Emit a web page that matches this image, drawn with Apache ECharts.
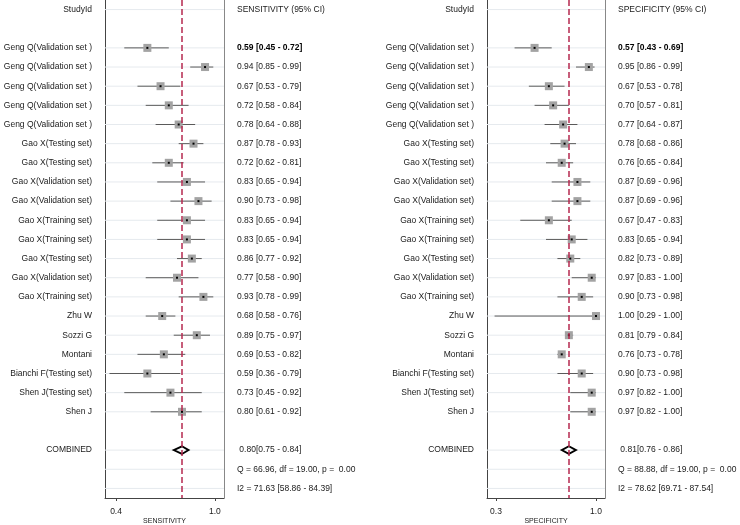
<!DOCTYPE html>
<html>
<head>
<meta charset="utf-8">
<script src="https://cdn.jsdelivr.net/npm/echarts@6/dist/echarts.min.js"></script>
<style>
  html, body { margin: 0; padding: 0; background: #fff; }
  #chart { width: 740px; height: 525px; }
</style>
</head>
<body>
<div id="chart"></div>
<script>
// study labels, top to bottom
const studies = [
  'Geng Q(Validation set )', 'Geng Q(Validation set )', 'Geng Q(Validation set )',
  'Geng Q(Validation set )', 'Geng Q(Validation set )',
  'Gao X(Testing set)', 'Gao X(Testing set)', 'Gao X(Validation set)', 'Gao X(Validation set)',
  'Gao X(Training set)', 'Gao X(Training set)', 'Gao X(Testing set)', 'Gao X(Validation set)',
  'Gao X(Training set)', 'Zhu W', 'Sozzi G', 'Montani', 'Bianchi F(Testing set)',
  'Shen J(Testing set)', 'Shen J'
]

const sensEst = [0.59, 0.94, 0.67, 0.72, 0.78, 0.87, 0.72, 0.83, 0.90, 0.83, 0.83, 0.86, 0.77, 0.93, 0.68, 0.89, 0.69, 0.59, 0.73, 0.80]
const sensLo = [0.45, 0.85, 0.53, 0.58, 0.64, 0.78, 0.62, 0.65, 0.73, 0.65, 0.65, 0.77, 0.58, 0.78, 0.58, 0.75, 0.53, 0.36, 0.45, 0.61]
const sensHi = [0.72, 0.99, 0.79, 0.84, 0.88, 0.93, 0.81, 0.94, 0.98, 0.94, 0.94, 0.92, 0.90, 0.99, 0.76, 0.97, 0.82, 0.79, 0.92, 0.92]

const specEst = [0.57, 0.95, 0.67, 0.70, 0.77, 0.78, 0.76, 0.87, 0.87, 0.67, 0.83, 0.82, 0.97, 0.90, 1.00, 0.81, 0.76, 0.90, 0.97, 0.97]
const specLo = [0.43, 0.86, 0.53, 0.57, 0.64, 0.68, 0.65, 0.69, 0.69, 0.47, 0.65, 0.73, 0.83, 0.73, 0.29, 0.79, 0.73, 0.73, 0.82, 0.82]
const specHi = [0.69, 0.99, 0.78, 0.81, 0.87, 0.86, 0.84, 0.96, 0.96, 0.83, 0.94, 0.89, 1.00, 0.98, 1.00, 0.84, 0.78, 0.98, 1.00, 1.00]

// pooled estimate, lower, upper
const sensPooled = [0.80, 0.75, 0.84]
const specPooled = [0.81, 0.76, 0.86]

// Q, df, p, I2, I2 lower, I2 upper
const sensHet = [66.96, 19.00, 0.00, 71.63, 58.86, 84.39]
const specHet = [88.88, 19.00, 0.00, 78.62, 69.71, 87.54]

const sensTicks = [0.4, 1.0]
const specTicks = [0.3, 1.0]

const N_ROWS = 26
const FIRST_ROW = 2
const COMBINED_ROW = 23
const FONT = 'Liberation Sans, Arial, sans-serif'
const TEXT = '#1a1a1a'

const f2 = v => v.toFixed(2)
const rowIds = Array.from({ length: N_ROWS }, (_, i) => String(i))

function panel (idx, title, est, lo, hi, pooled, het) {
  const left = Array(N_ROWS).fill('')
  const right = Array(N_ROWS).fill('')
  left[0] = 'StudyId'
  right[0] = title + ' (95% CI)'
  studies.forEach((s, i) => {
    left[FIRST_ROW + i] = s
    right[FIRST_ROW + i] = `${f2(est[i])} [${f2(lo[i])} - ${f2(hi[i])}]`
  })
  left[COMBINED_ROW] = 'COMBINED'
  right[COMBINED_ROW] = ` ${f2(pooled[0])}[${f2(pooled[1])} - ${f2(pooled[2])}]`
  right[COMBINED_ROW + 1] = `Q = ${f2(het[0])}, df = ${f2(het[1])}, p =  ${f2(het[2])}`
  right[COMBINED_ROW + 2] = `I2 = ${f2(het[3])} [${f2(het[4])} - ${f2(het[5])}]`

  const gridRows = [0, ...studies.map((_, i) => FIRST_ROW + i), COMBINED_ROW, COMBINED_ROW + 1, COMBINED_ROW + 2]

  const yAxes = [
    {
      type: 'category',
      gridIndex: idx,
      data: rowIds,
      inverse: true,
      axisTick: { show: false },
      axisLine: { show: true, lineStyle: { color: '#444', width: 1 } },
      axisLabel: {
        interval: 0,
        margin: 13,
        fontSize: 8.5,
        fontFamily: FONT,
        color: TEXT,
        formatter: (v, i) => left[i]
      }
    },
    {
      type: 'category',
      gridIndex: idx,
      position: 'right',
      data: rowIds,
      inverse: true,
      axisTick: { show: false },
      axisLine: { show: true, lineStyle: { color: '#888', width: 1 } },
      axisLabel: {
        interval: 0,
        margin: 13,
        fontSize: 8.5,
        fontFamily: FONT,
        color: TEXT,
        formatter: (v, i) => (i === FIRST_ROW ? `{b|${right[i]}}` : right[i]),
        rich: { b: { fontSize: 8.5, fontFamily: FONT, color: '#000', fontWeight: 'bold' } }
      }
    }
  ]

  const series = [
    {
      type: 'custom',
      xAxisIndex: idx,
      yAxisIndex: idx * 2,
      silent: true,
      z: 1,
      data: gridRows.map(r => [est[0], r]),
      renderItem: (params, api) => {
        const y = api.coord([api.value(0), api.value(1)])[1]
        const cs = params.coordSys
        return {
          type: 'line',
          shape: { x1: cs.x, y1: y, x2: cs.x + cs.width, y2: y },
          style: { stroke: '#e6eaee', lineWidth: 1 }
        }
      }
    },
    {
      type: 'custom',
      xAxisIndex: idx,
      yAxisIndex: idx * 2,
      z: 3,
      data: est.map((v, i) => [v, FIRST_ROW + i, lo[i], hi[i]]),
      renderItem: (params, api) => {
        const c = api.coord([api.value(0), api.value(1)])
        const a = api.coord([api.value(2), api.value(1)])
        const b = api.coord([api.value(3), api.value(1)])
        const s = 8
        return {
          type: 'group',
          children: [
            { type: 'line', shape: { x1: a[0], y1: c[1], x2: b[0], y2: c[1] }, style: { stroke: '#5a5a5a', lineWidth: 1 } },
            { type: 'rect', shape: { x: c[0] - s / 2, y: c[1] - s / 2, width: s, height: s }, style: { fill: '#a3a3a3' } },
            { type: 'rect', shape: { x: c[0] - 1, y: c[1] - 1, width: 2, height: 2 }, style: { fill: '#000' } }
          ]
        }
      },
      markLine: {
        silent: true,
        symbol: ['none', 'none'],
        label: { show: false },
        lineStyle: { color: '#b5284f', type: [6, 3], width: 1.5 },
        data: [{ xAxis: pooled[0] }]
      }
    },
    {
      type: 'custom',
      xAxisIndex: idx,
      yAxisIndex: idx * 2,
      z: 4,
      data: [[pooled[0], COMBINED_ROW, pooled[1], pooled[2]]],
      renderItem: (params, api) => {
        const c = api.coord([api.value(0), api.value(1)])
        const a = api.coord([api.value(2), api.value(1)])
        const b = api.coord([api.value(3), api.value(1)])
        const h = 3.8
        return {
          type: 'polygon',
          shape: { points: [[a[0], c[1]], [c[0], c[1] - h], [b[0], c[1]], [c[0], c[1] + h]] },
          style: { fill: 'none', stroke: '#000', lineWidth: 1.8 }
        }
      }
    }
  ]
  return { yAxes, series }
}

function xAxis (idx, min, max, ticks, name) {
  return {
    type: 'value',
    gridIndex: idx,
    min: min,
    max: max,
    splitLine: { show: false },
    axisLine: { show: true, lineStyle: { color: '#444', width: 1 } },
    axisTick: { show: true, customValues: ticks, length: 3, lineStyle: { color: '#444' } },
    axisLabel: {
      customValues: ticks,
      formatter: v => v.toFixed(1),
      fontSize: 8.5,
      fontFamily: FONT,
      color: TEXT,
      margin: 9
    },
    name: name,
    nameLocation: 'middle',
    nameGap: 20,
    nameMoveOverlap: false,
    nameTextStyle: { fontSize: 7, fontFamily: FONT, color: TEXT }
  }
}

const sens = panel(0, 'SENSITIVITY', sensEst, sensLo, sensHi, sensPooled, sensHet)
const spec = panel(1, 'SPECIFICITY', specEst, specLo, specHi, specPooled, specHet)

const chart = echarts.init(document.getElementById('chart'), null, { renderer: 'canvas' })
chart.setOption({
  animation: false,
  backgroundColor: '#fff',
  grid: [
    { left: 105, top: 0, width: 119, height: 498, outerBoundsMode: 'none', containLabel: false },
    { left: 487, top: 0, width: 118, height: 498, outerBoundsMode: 'none', containLabel: false }
  ],
  xAxis: [
    xAxis(0, 0.333, 1.055, sensTicks, 'SENSITIVITY'),
    xAxis(1, 0.237, 1.063, specTicks, 'SPECIFICITY')
  ],
  yAxis: [...sens.yAxes, ...spec.yAxes],
  series: [...sens.series, ...spec.series]
})
</script>
</body>
</html>
